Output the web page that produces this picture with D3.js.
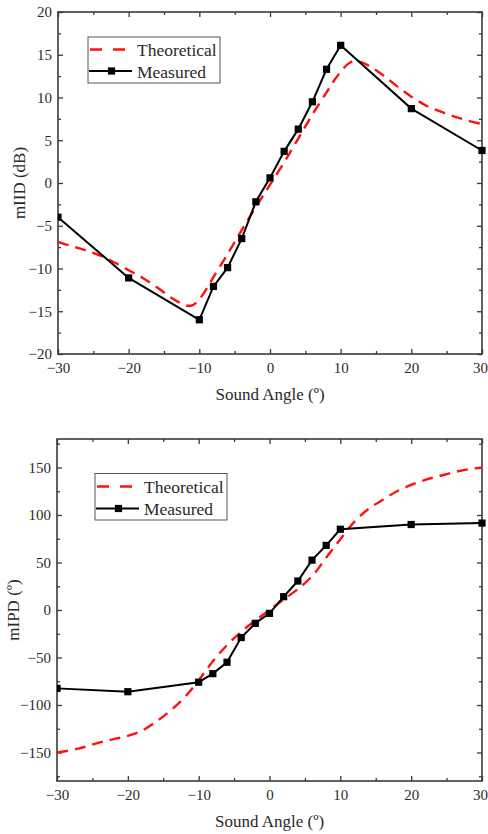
<!DOCTYPE html>
<html>
<head>
<meta charset="utf-8">
<script src="https://cdn.jsdelivr.net/npm/d3@7"></script>
<style>
html,body{margin:0;padding:0;background:#fff;}
svg{display:block;}
text{font-family:"Liberation Serif","Times New Roman",Tinos,serif;fill:#2a2a2a;}
</style>
</head>
<body>
<svg id="chart" width="488" height="834"></svg>
<script>
// ---------- data ----------
const angles = [-30,-20,-10,-8,-6,-4,-2,0,2,4,6,8,10,20,30];
const iidMeasured = [-4.0,-11.1,-16.0,-12.1,-9.9,-6.5,-2.2,0.6,3.7,6.3,9.5,13.3,16.1,8.7,3.8];
const ipdMeasured = [-82.5,-86,-76,-67,-55,-29,-14,-3.5,14,30.5,52.5,68,85,90,91.5];

const iidTheoAngles = [-30,-28,-26,-24,-22,-20,-18,-16,-14,-13,-12,-11,-10,-9,-8,-6,-4,-2,0,2,4,6,8,9,10,11,12,13,14,16,18,20,22,24,26,28,30];
const iidTheoValues = [-6.9,-7.4,-7.9,-8.5,-9.3,-10.2,-11.1,-12.2,-13.4,-13.9,-14.3,-14.3,-13.6,-12.4,-11.0,-8.3,-5.5,-2.8,-0.2,2.4,5.2,8.0,10.6,11.9,13.0,13.9,14.3,14.1,13.7,12.6,11.3,10.1,9.1,8.4,7.8,7.3,6.9];

const ipdTheoAngles = [-30,-27,-24,-22,-20,-18,-16,-14,-12,-10,-8,-6,-4,-2,0,2,4,6,8,10,12,14,16,18,20,22,24,26,28,30];
const ipdTheoValues = [-150,-146,-139.5,-136,-132.5,-127,-117.5,-106,-92,-74,-54,-37,-23,-11,0,11,22,35.5,55,74.5,93,106.5,116,125,131.6,137,141,145,148,150];

const xMajorTicks = [-30,-20,-10,0,10,20,30];
const xMinorTicks = [-25,-15,-5,5,15,25];
const iidMajorTicks = [-20,-15,-10,-5,0,5,10,15,20];
const iidMinorTicks = [-17.5,-12.5,-7.5,-2.5,2.5,7.5,12.5,17.5];
const ipdMajorTicks = [-150,-100,-50,0,50,100,150];
const ipdMinorTicks = [-175,-125,-75,-25,25,75,125,175];

const xTitle = "Sound Angle (º)";
const legendLabels = ["Theoretical","Measured"];

// ---------- drawing ----------
const svg = d3.select("#chart");
const frameColor = "#3a3a3a";

function panel(cfg){
  const x = d3.scaleLinear().domain([-30,30]).range([cfg.left, cfg.right]);
  const y = d3.scaleLinear().domain(cfg.yDomain).range([cfg.bottom, cfg.top]);
  const g = svg.append("g");

  function styleAxis(sel){
    sel.select(".domain").remove();
    sel.attr("font-family", null);
    sel.selectAll("line").attr("stroke", frameColor).attr("stroke-width", 1.3);
    sel.selectAll("text").attr("font-size", "15px").attr("fill", "#2a2a2a");
  }
  // bottom
  const bx = g.append("g").attr("transform", `translate(0,${cfg.bottom})`)
    .call(d3.axisBottom(x).tickValues(xMajorTicks).tickSize(-5).tickPadding(8).tickFormat(d3.format("d")))
    .call(styleAxis);
  // keep the last label inside the page
  bx.selectAll("text").filter(d => d === 30).attr("dx", "-2");
  g.append("g").attr("transform", `translate(0,${cfg.bottom})`)
    .call(d3.axisBottom(x).tickValues(xMinorTicks).tickSize(-3).tickFormat(""))
    .call(styleAxis);
  // top
  g.append("g").attr("transform", `translate(0,${cfg.top})`)
    .call(d3.axisTop(x).tickValues(xMajorTicks).tickSize(-5).tickFormat(""))
    .call(styleAxis);
  g.append("g").attr("transform", `translate(0,${cfg.top})`)
    .call(d3.axisTop(x).tickValues(xMinorTicks).tickSize(-3).tickFormat(""))
    .call(styleAxis);
  // left
  g.append("g").attr("transform", `translate(${cfg.left},0)`)
    .call(d3.axisLeft(y).tickValues(cfg.yMajor).tickSize(-5).tickPadding(6).tickFormat(d3.format("d")))
    .call(styleAxis);
  g.append("g").attr("transform", `translate(${cfg.left},0)`)
    .call(d3.axisLeft(y).tickValues(cfg.yMinor).tickSize(-3).tickFormat(""))
    .call(styleAxis);
  // right
  g.append("g").attr("transform", `translate(${cfg.right},0)`)
    .call(d3.axisRight(y).tickValues(cfg.yMajor).tickSize(-5).tickFormat(""))
    .call(styleAxis);
  g.append("g").attr("transform", `translate(${cfg.right},0)`)
    .call(d3.axisRight(y).tickValues(cfg.yMinor).tickSize(-3).tickFormat(""))
    .call(styleAxis);

  // frame
  g.append("rect").attr("x", cfg.left).attr("y", cfg.top)
    .attr("width", cfg.right-cfg.left).attr("height", cfg.bottom-cfg.top)
    .attr("fill","none").attr("stroke", frameColor).attr("stroke-width", 1.6);

  const clipId = "clip"+cfg.id;
  svg.append("clipPath").attr("id", clipId).append("rect")
    .attr("x", cfg.left).attr("y", cfg.top-4).attr("width", cfg.right-cfg.left+4).attr("height", cfg.bottom-cfg.top+8);

  // theoretical
  const theo = cfg.theoAngles.map((a,i)=>[a, cfg.theoValues[i]]);
  g.append("path").datum(theo)
    .attr("d", d3.line().x(d=>x(d[0])).y(d=>y(d[1])).curve(d3.curveCatmullRom))
    .attr("fill","none").attr("stroke","#ff1010").attr("stroke-width",2.4)
    .attr("stroke-dasharray","11,7");

  // measured
  const meas = angles.map((a,i)=>[a, cfg.measured[i]]);
  g.append("path").datum(meas)
    .attr("d", d3.line().x(d=>x(d[0])).y(d=>y(d[1])))
    .attr("fill","none").attr("stroke","#000").attr("stroke-width",2);
  g.append("g").attr("clip-path", `url(#${clipId})`).selectAll("rect.pt").data(meas).enter().append("rect")
    .attr("x", d=>x(d[0])-3.6).attr("y", d=>y(d[1])-3.6)
    .attr("width",7.2).attr("height",7.2).attr("fill","#000");

  // axis titles
  g.append("text").attr("x", (cfg.left+cfg.right)/2).attr("y", cfg.xTitleY)
    .attr("text-anchor","middle").attr("font-size","17px").text(xTitle);
  g.append("text").attr("transform", `translate(${cfg.yTitleX},${cfg.yTitleCY}) rotate(-90)`)
    .attr("text-anchor","middle").attr("font-size","17px").text(cfg.yTitle);

  // legend
  const L = cfg.legend;
  g.append("rect").attr("x", L.x).attr("y", L.y).attr("width", L.w).attr("height", L.h)
    .attr("fill","#fff").attr("stroke","#555").attr("stroke-width",1);
  g.append("line").attr("x1", L.x+2).attr("x2", L.x+40).attr("y1", L.y+L.r1).attr("y2", L.y+L.r1)
    .attr("stroke","#ff1010").attr("stroke-width",2.4).attr("stroke-dasharray","12,11");
  g.append("text").attr("x", L.x+49).attr("y", L.y+L.r1+6.5).attr("font-size","17.5px").text(legendLabels[0]);
  g.append("line").attr("x1", L.x+1).attr("x2", L.x+44).attr("y1", L.y+L.r2).attr("y2", L.y+L.r2)
    .attr("stroke","#000").attr("stroke-width",2);
  g.append("rect").attr("x", L.x+23.5-3.6).attr("y", L.y+L.r2-3.6).attr("width",7.2).attr("height",7.2).attr("fill","#000");
  g.append("text").attr("x", L.x+49).attr("y", L.y+L.r2+6.5).attr("font-size","17.5px").text(legendLabels[1]);
}

panel({
  id: 1, left: 58, right: 482, top: 12, bottom: 354,
  yDomain: [-20,20], yMajor: iidMajorTicks, yMinor: iidMinorTicks,
  theoAngles: iidTheoAngles, theoValues: iidTheoValues, measured: iidMeasured,
  xTitleY: 400, yTitle: "mIID (dB)", yTitleX: 25, yTitleCY: 183,
  legend: {x: 88, y: 37, w: 132, h: 46, r1: 12.5, r2: 34}
});

panel({
  id: 2, left: 57, right: 482, top: 439, bottom: 781,
  yDomain: [-180,180], yMajor: ipdMajorTicks, yMinor: ipdMinorTicks,
  theoAngles: ipdTheoAngles, theoValues: ipdTheoValues, measured: ipdMeasured,
  xTitleY: 827, yTitle: "mIPD (º)", yTitleX: 19, yTitleCY: 610,
  legend: {x: 95, y: 473.5, w: 132, h: 46.5, r1: 13, r2: 35}
});
</script>
</body>
</html>
